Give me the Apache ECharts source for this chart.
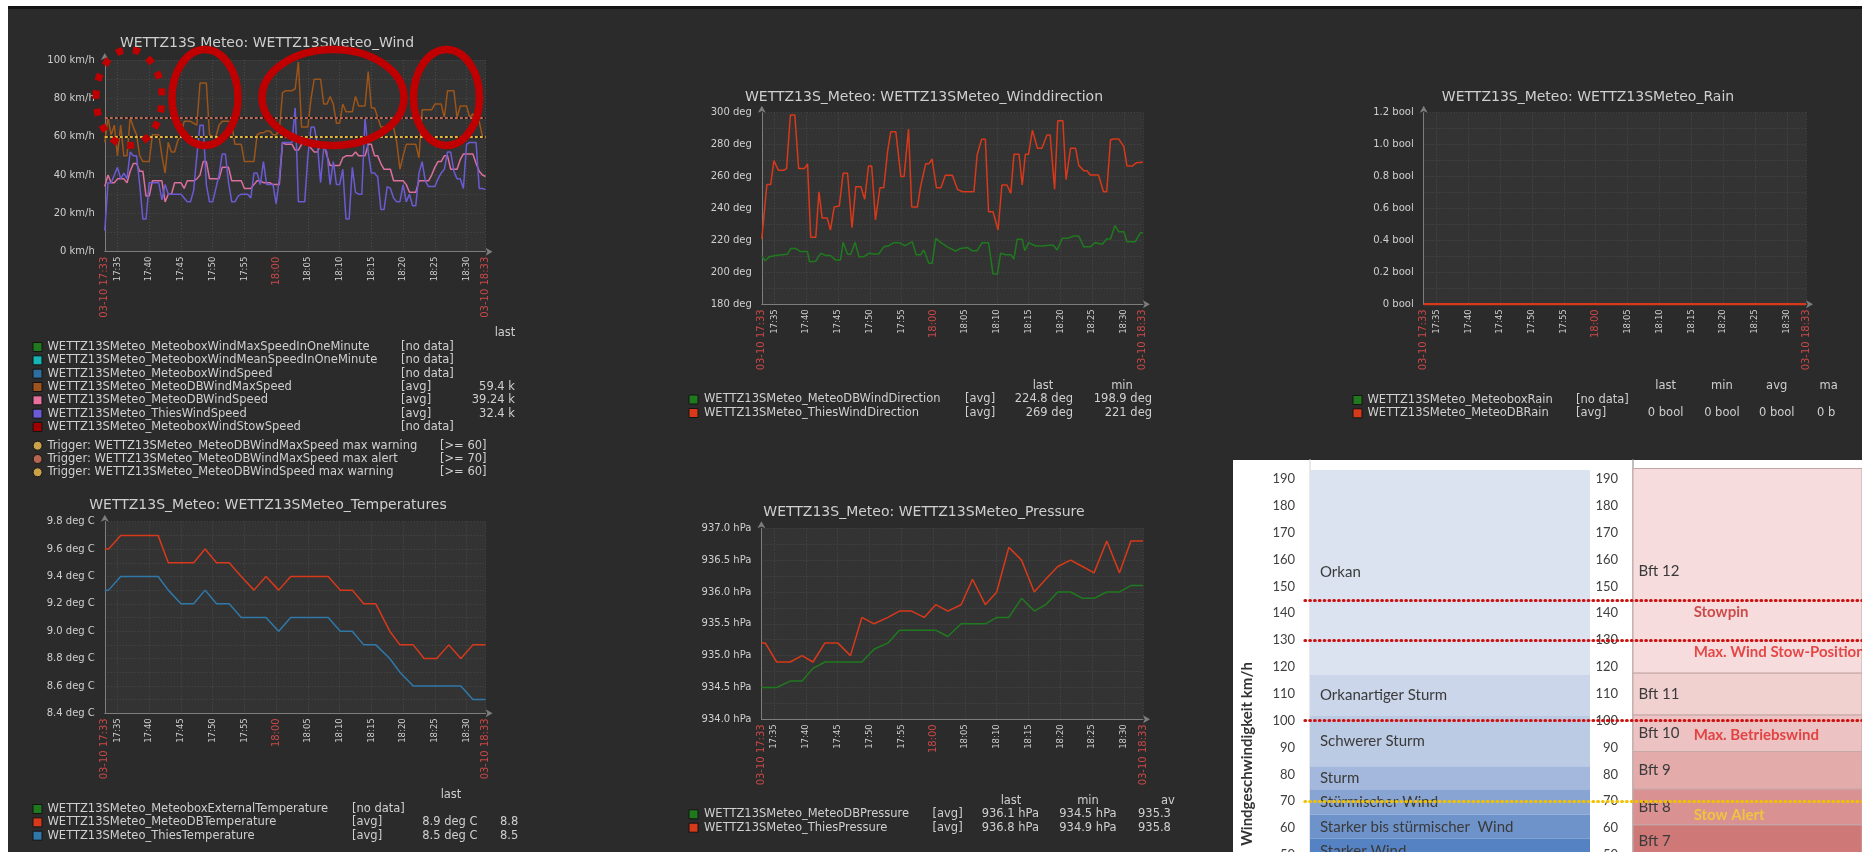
<!DOCTYPE html>
<html>
<head>
<meta charset="utf-8">
<title>WETTZ13S Meteo</title>
<script src="https://cdn.jsdelivr.net/npm/echarts@6.0.0/dist/echarts.min.js"></script>
<style>
html, body { margin: 0; padding: 0; background: #ffffff; }
#board { width: 1862px; height: 852px; }
</style>
</head>
<body>
<div id="board"></div>
<script>
// ---------- shared time axis: minutes after 03-10 17:33 ----------
const timeTicks = [0, 2, 7, 12, 17, 22, 27, 32, 37, 42, 47, 52, 57, 60];
const timeTickLabels = ['03-10 17:33', '17:35', '17:40', '17:45', '17:50', '17:55', '18:00',
  '18:05', '18:10', '18:15', '18:20', '18:25', '18:30', '03-10 18:33'];
const highlightedTickLabels = ['03-10 17:33', '18:00', '03-10 18:33'];

// ---------- wind speed (km/h), one sample every 30 s ----------
const windSampleMinutes = 0.5;
const windMaxSpeed = [
  57, 70, 61, 66, 50, 66, 50, 50, 70, 65,
  61, 50, 47, 47, 47, 61, 61, 61, 50, 41,
  57, 52, 52, 58, 61, 68, 68, 68, 67, 66,
  88, 88, 88, 61, 60, 60, 66, 68, 68, 68,
  67, 56, 56, 56, 47, 47, 47, 47, 61, 62,
  62, 63, 63, 61, 61, 63, 83, 84, 84, 84,
  85, 99, 65, 65, 65, 80, 90, 90, 90, 77,
  77, 81, 77, 67, 67, 77, 73, 73, 73, 81,
  76, 76, 76, 94, 75, 75, 70, 65, 65, 65,
  65, 65, 57, 43, 50, 56, 56, 56, 56, 49,
  74, 74, 74, 74, 77, 77, 77, 70, 84, 84,
  84, 70, 76, 76, 76, 70, 72, 68, 68, 60,
  59.4];
const windDbSpeed = [
  34, 40, 36, 36, 38, 38, 38, 36, 42, 46,
  46, 42, 42, 29, 29, 37, 37, 37, 37, 26,
  30, 30, 36, 36, 36, 33, 37, 37, 37, 38,
  40, 47, 47, 38, 38, 38, 38, 44, 44, 44,
  37, 37, 37, 37, 33, 33, 33, 35, 37, 37,
  36, 36, 36, 35, 35, 35, 57, 56, 56, 56,
  53, 53, 56, 56, 56, 54, 52, 52, 56, 56,
  50, 45, 45, 45, 45, 49, 50, 50, 50, 52,
  50, 50, 50, 56, 56, 50, 50, 46, 43, 43,
  43, 37, 37, 37, 37, 35, 31, 31, 31, 37,
  37, 37, 37, 40, 44, 47, 47, 50, 50, 43,
  43, 43, 48, 51, 51, 51, 51, 46, 42, 40,
  39.24];
const windThiesSpeed = [
  11, 36, 36, 40, 44, 38, 41, 38, 52, 50,
  50, 35, 17, 17, 36, 36, 36, 36, 27, 35,
  30, 30, 30, 30, 30, 28, 26, 26, 32, 50,
  66, 66, 35, 26, 26, 33, 40, 51, 51, 36,
  26, 26, 29, 30, 30, 30, 28, 41, 41, 35,
  47, 35, 35, 35, 25, 38, 57, 57, 57, 57,
  75, 26, 26, 26, 50, 65, 65, 56, 36, 55,
  52, 35, 47, 35, 35, 43, 17, 17, 44, 31,
  30, 30, 70, 52, 41, 41, 39, 22, 22, 34,
  33, 28, 26, 26, 35, 26, 30, 24, 24, 41,
  47, 37, 34, 34, 34, 38, 41, 43, 52, 52,
  42, 38, 38, 33, 56, 57, 57, 57, 33, 33,
  32.4];
const windItemNames = [
  'WETTZ13SMeteo_MeteoboxWindMaxSpeedInOneMinute',
  'WETTZ13SMeteo_MeteoboxWindMeanSpeedInOneMinute',
  'WETTZ13SMeteo_MeteoboxWindSpeed',
  'WETTZ13SMeteo_MeteoDBWindMaxSpeed',
  'WETTZ13SMeteo_MeteoDBWindSpeed',
  'WETTZ13SMeteo_ThiesWindSpeed',
  'WETTZ13SMeteo_MeteoboxWindStowSpeed'];
const windTriggerNames = [
  'Trigger: WETTZ13SMeteo_MeteoDBWindMaxSpeed max warning',
  'Trigger: WETTZ13SMeteo_MeteoDBWindMaxSpeed max alert',
  'Trigger: WETTZ13SMeteo_MeteoDBWindSpeed max warning'];
const windTriggerLevels = [60, 70, 60];

// ---------- wind direction (deg) ----------
const dirThiesMinutes = [0, 0.8, 1.4, 1.9, 2.6, 3.5, 3.9, 4.5, 5.2, 5.8, 6.7, 7.2, 7.7, 8.5, 9, 9.5, 10.3, 10.8,
  11.4, 12.2, 12.8, 13.5, 14.2, 14.8, 15.6, 16.2, 16.8, 17.3, 17.9, 18.6, 19.2, 19.8, 20.3, 21.1, 21.9, 22.4,
  23.1, 23.6, 24.5, 25, 25.8, 26.3, 26.8, 27.5, 28.2, 28.9, 30, 30.8, 31.6, 33.4, 33.9, 34.6, 35.2, 35.7, 36.4,
  37.2, 37.8, 38.6, 39.2, 39.7, 40.5, 41, 41.5, 42, 42.6, 43.4, 44.1, 44.9, 45.4, 46.1, 46.6, 47.4, 47.9, 48.6,
  49.4, 49.9, 50.7, 51.2, 51.7, 53, 53.8, 54.3, 54.9, 55.4, 56.2, 57, 57.5, 58.3, 59, 60];
const dirThiesDeg = [221, 255, 255, 270, 264, 264, 265, 298.5, 298.5, 265, 265, 268, 222, 222, 250.5, 234, 234, 226.5,
  241, 241.5, 262, 262, 228, 253.7, 253.7, 245.7, 266.6, 266.6, 232.8, 253, 253, 275.6, 288, 288, 260, 260,
  289.8, 241, 241, 253.7, 268, 268, 271, 253, 253, 260.8, 260.8, 252, 250.5, 250.5, 273.5, 283.3, 283.3, 238, 238,
  226.5, 254.7, 254.7, 249.5, 274, 274, 254.7, 274, 274, 289, 277.7, 277.7, 286, 286, 252, 295, 295, 258, 277.7,
  277.7, 267, 263.7, 263.7, 261, 261, 250.5, 250.5, 283, 283.5, 283.5, 278.7, 266.6, 266.6, 268.7, 269];
const dirDbMinutes = [0, 0.5, 1.2, 2.2, 3.2, 4, 4.6, 5.3, 6.1, 7.2, 7.5, 8.5, 9.3, 10.1, 10.8, 11.6, 12.4, 12.8,
  13.5, 14, 14.7, 15.3, 16.1, 16.9, 17.7, 18.4, 19.2, 20, 20.8, 21.6, 22.6, 23.7, 24.3, 25, 25.5, 26.3, 26.8,
  27.4, 28.2, 29.2, 30.5, 31.3, 32.4, 33.1, 33.9, 34.7, 35.7, 36.4, 37.1, 37.6, 38.4, 39.2, 39.7, 40.2, 41,
  41.4, 42, 43.1, 44.1, 45.2, 45.9, 46.5, 47.3, 48.1, 49.1, 49.9, 50.7, 51.7, 52.5, 53.6, 54.3, 54.9, 55.6,
  56.2, 57, 57.5, 58.8, 59.6, 60];
const dirDbDeg = [210.5, 207.3, 209.8, 210.5, 211, 211.3, 215, 215, 213, 213, 206.7, 207, 212, 210.5, 210.5, 207.8, 207.8, 218.8,
  211.3, 211.3, 218.8, 209.8, 209.8, 212, 211.5, 211.5, 216, 216.7, 218.6, 218.6, 216.7, 219.2, 211, 211, 214, 205.7, 205.7,
  221.3, 218.6, 216, 213.4, 215, 215.5, 213.6, 213.6, 218.6, 218.6, 198.9, 198.9, 212, 211, 211, 208.4, 220.7, 220.7,
  213.6, 218.6, 216.5, 216.5, 217, 217, 214, 221.3, 221.3, 222.8, 222.8, 216, 216, 218.6, 217.6, 220.9, 220.9, 229.3,
  225.5, 225.5, 219.2, 219.2, 224.8, 224.8];
const dirItemNames = ['WETTZ13SMeteo_MeteoDBWindDirection', 'WETTZ13SMeteo_ThiesWindDirection'];

// ---------- rain (bool) ----------
const rainMinutes = [0, 60];
const rainDb = [0, 0];
const rainItemNames = ['WETTZ13SMeteo_MeteoboxRain', 'WETTZ13SMeteo_MeteoDBRain'];

// ---------- temperatures (deg C) ----------
const tempMinutes = [0, 0.6, 2.5, 4.5, 6.5, 8.4, 10, 12, 14, 15.8, 17.6, 19.6, 21.5, 23.5, 25.4, 27.4, 29.3,
  31.3, 33.2, 35.2, 37.1, 39, 40.8, 42.7, 44.9, 46.5, 48.6, 50.3, 52.3, 54.2, 56.1, 58, 60];
const tempDb = [9.6, 9.6, 9.7, 9.7, 9.7, 9.7, 9.5, 9.5, 9.5, 9.6, 9.5, 9.5, 9.4, 9.3, 9.4, 9.3, 9.4,
  9.4, 9.4, 9.4, 9.3, 9.3, 9.2, 9.2, 9.0, 8.9, 8.9, 8.8, 8.8, 8.9, 8.8, 8.9, 8.9];
const tempThies = [9.3, 9.3, 9.4, 9.4, 9.4, 9.4, 9.3, 9.2, 9.2, 9.3, 9.2, 9.2, 9.1, 9.1, 9.1, 9.0, 9.1,
  9.1, 9.1, 9.1, 9.0, 9.0, 8.9, 8.9, 8.8, 8.7, 8.6, 8.6, 8.6, 8.6, 8.6, 8.5, 8.5];
const tempItemNames = ['WETTZ13SMeteo_MeteoboxExternalTemperature', 'WETTZ13SMeteo_MeteoDBTemperature',
  'WETTZ13SMeteo_ThiesTemperature'];

// ---------- pressure (hPa) ----------
const pressMinutes = [0, 0.6, 2.4, 4.5, 6.4, 8.1, 10, 12, 14, 15.8, 17.7, 19.9, 21.7, 23.6, 25.6, 27.4, 29.3,
  31.4, 33.2, 35.2, 37, 38.9, 40.9, 42.9, 44.7, 46.6, 48.6, 50.5, 52.3, 54.3, 56.3, 58.1, 60];
const pressDb = [934.5, 934.5, 934.5, 934.6, 934.6, 934.8, 934.9, 934.9, 934.9, 934.9, 935.1, 935.2, 935.4, 935.4,
  935.4, 935.4, 935.3, 935.5, 935.5, 935.5, 935.6, 935.6, 935.9, 935.7, 935.8, 936.0, 936.0, 935.9, 935.9, 936.0,
  936.0, 936.1, 936.1];
const pressThies = [935.2, 935.2, 934.9, 934.9, 935.0, 934.9, 935.2, 935.2, 935.0, 935.6, 935.5, 935.6, 935.7, 935.7,
  935.6, 935.8, 935.7, 935.8, 936.2, 935.8, 936.0, 936.7, 936.5, 936.0, 936.2, 936.4, 936.5, 936.4, 936.3, 936.8,
  936.3, 936.8, 936.8];
const pressAvgText = ['935.3', '935.8'];
const pressItemNames = ['WETTZ13SMeteo_MeteoDBPressure', 'WETTZ13SMeteo_ThiesPressure'];

// ---------- wind scale reference table (km/h) ----------
const scaleTicks = [50, 60, 70, 80, 90, 100, 110, 120, 130, 140, 150, 160, 170, 180, 190];
const windClassNames = ['Orkan', 'Orkanartiger Sturm', 'Schwerer Sturm', 'Sturm', 'Stürmischer Wind',
  'Starker bis stürmischer  Wind', 'Starker Wind'];
const windClassFrom = [117, 102, 83, 74.5, 65, 56, 47];
const windClassTo = [193.3, 117, 102, 83, 74.5, 65, 56];
const beaufortNames = ['Bft 12', 'Bft 11', 'Bft 10', 'Bft 9', 'Bft 8', 'Bft 7'];
const beaufortFrom = [117.7, 102.1, 88.5, 74.5, 61.2, 49];
const beaufortTo = [193.9, 117.7, 102.1, 88.5, 74.5, 61.2];
const limitNames = ['Stowpin', 'Max. Wind Stow-Position', 'Max. Betriebswind', 'Stow Alert'];
const limitLabelLevels = [140.4, 125.5, 94.5, 65];
const limitLineLevels = [145, 130, 100, 70];

// ---------- styling ----------
const FONT = 'DejaVu Sans';
const PAGE_BG = '#2b2b2b';
const PLOT_BG = '#333333';
const GRID_LINE = '#4a4a4a';
const AXIS_LINE = '#7d7d7d';
const TEXT = '#cfcfcf';
const TICK_RED = '#c84848';
const LEG_FONT = '11.5px "DejaVu Sans"';
const windLegendColors = ['#1f7a1f', '#16b5b5', '#2d6f9e', '#a0521d', '#e8709f', '#6b5bd6', '#a00000'];
const windLineColors = { max: '#9c5418', db: '#db6f9e', thies: '#6a5bd4' };
const triggerColors = ['#c9a24a', '#b8654f', '#c9a24a'];
const triggerLineColors = { 60: '#e0b43c', 70: '#b86a58' };
const GREEN = '#1f7a1f', RED = '#d8391a', BLUE = '#2f78a8';
const classColors = ['#dbe3f1', '#cbd6ea', '#bccbe4', '#a3b8dc', '#88a4d3', '#6e92ca', '#5582c2'];
const bftColors = ['#f6dcdc', '#f1d0d0', '#ecc2c2', '#e4abab', '#da9191', '#cf7878'];
const limitColors = ['#c42626', '#e02222', '#e02222', '#f2d22a'];
const limitLineColors = ['#cc1111', '#cc1111', '#cc1111', '#f2c200'];

// ---------- helpers ----------
const pairs = (xs, ys) => xs.map((x, i) => [x, ys[i]]);
const windMinutes = windMaxSpeed.map((_, i) => i * windSampleMinutes);
const last = a => a[a.length - 1];
const minOf = a => Math.min.apply(null, a);

function tickLabel(v) {
  const i = timeTicks.findIndex(t => Math.abs(t - v) < 1e-6);
  if (i < 0) return '';
  const s = timeTickLabels[i];
  return highlightedTickLabels.indexOf(s) >= 0 ? '{hi|' + s + '}' : '{lo|' + s + '}';
}

function timeAxis(gridIndex) {
  return {
    type: 'value', gridIndex, min: 0, max: 60,
    axisLine: { show: true, onZero: false, lineStyle: { color: AXIS_LINE },
      symbol: ['none', 'arrow'], symbolSize: [6, 7], symbolOffset: [0, 7] },
    axisTick: { show: false, customValues: timeTicks },
    axisLabel: {
      customValues: timeTicks, rotate: 90, margin: 5, formatter: tickLabel,
      rich: {
        hi: { color: TICK_RED, fontSize: 10, fontFamily: FONT },
        lo: { color: TEXT, fontSize: 8.5, fontFamily: FONT }
      }
    },
    splitLine: { show: true, lineStyle: { color: GRID_LINE, type: [1, 2] } }
  };
}

function valueAxis(gridIndex, min, max, interval, fmt) {
  return {
    type: 'value', gridIndex, min, max, interval,
    axisLine: { show: true, lineStyle: { color: AXIS_LINE },
      symbol: ['none', 'arrow'], symbolSize: [6, 7], symbolOffset: [0, 7] },
    axisTick: { show: false },
    axisLabel: { color: TEXT, fontFamily: FONT, fontSize: 10, margin: 10, formatter: fmt },
    splitLine: { show: true, lineStyle: { color: GRID_LINE, type: [1, 2] } },
    minorTick: { show: false, splitNumber: 2 },
    minorSplitLine: { show: true, lineStyle: { color: GRID_LINE, type: [1, 2] } }
  };
}

function lineSeries(axisIndex, data, color, width, extra) {
  return Object.assign({
    type: 'line', xAxisIndex: axisIndex, yAxisIndex: axisIndex, data,
    showSymbol: false, symbol: 'none', silent: true, animation: false,
    lineStyle: { color, width: width || 1.5 }
  }, extra || {});
}

function txt(x, y, s, o) {
  o = o || {};
  return {
    type: 'text', x, y, z: o.z || 10, rotation: o.rot || 0, silent: true,
    style: {
      text: s, fill: o.color || TEXT, font: o.font || LEG_FONT,
      textAlign: o.align || 'left', textVerticalAlign: 'middle',
      align: o.align || 'left', verticalAlign: 'middle'
    }
  };
}
function swatch(x, y, color) {
  return { type: 'rect', z: 10, silent: true, shape: { x, y: y - 4.5, width: 9, height: 9 },
    style: { fill: color, stroke: '#141414', lineWidth: 1 } };
}
function dot(x, y, color) {
  return { type: 'circle', z: 10, silent: true, shape: { cx: x, cy: y, r: 4.5 },
    style: { fill: color, stroke: '#141414', lineWidth: 1 } };
}

// ---------- page chrome, titles and legends ----------
const TITLE_FONT = '14px "DejaVu Sans"';
const g = [];
g.push({ type: 'rect', z: -100, silent: true, shape: { x: 0, y: 0, width: 1862, height: 852 }, style: { fill: '#ffffff' } });
g.push({ type: 'rect', z: -99, silent: true, shape: { x: 8, y: 6, width: 1854, height: 846 }, style: { fill: PAGE_BG } });
g.push({ type: 'rect', z: -98, silent: true, shape: { x: 8, y: 6, width: 1854, height: 3 }, style: { fill: '#141414' } });
g.push({ type: 'rect', z: -97, silent: true, shape: { x: 1233, y: 460, width: 629, height: 392 }, style: { fill: '#ffffff' } });

g.push(txt(267, 43, 'WETTZ13S Meteo: WETTZ13SMeteo_Wind', { align: 'center', font: TITLE_FONT }));
g.push(txt(924, 97, 'WETTZ13S_Meteo: WETTZ13SMeteo_Winddirection', { align: 'center', font: TITLE_FONT }));
g.push(txt(1588, 97, 'WETTZ13S_Meteo: WETTZ13SMeteo_Rain', { align: 'center', font: TITLE_FONT }));
g.push(txt(268, 505, 'WETTZ13S_Meteo: WETTZ13SMeteo_Temperatures', { align: 'center', font: TITLE_FONT }));
g.push(txt(924, 512, 'WETTZ13S_Meteo: WETTZ13SMeteo_Pressure', { align: 'center', font: TITLE_FONT }));

// wind legend
const windLast = ['', '', '', last(windMaxSpeed) + ' k', last(windDbSpeed) + ' k', last(windThiesSpeed) + ' k', ''];
g.push(txt(505, 333, 'last', { align: 'center' }));
windItemNames.forEach((n, i) => {
  const y = 347 + i * 13.33;
  g.push(swatch(33, y, windLegendColors[i]));
  g.push(txt(47.5, y, n));
  g.push(txt(401, y, windLast[i] ? '[avg]' : '[no data]'));
  if (windLast[i]) g.push(txt(515, y, windLast[i], { align: 'right' }));
});
windTriggerNames.forEach((n, i) => {
  const y = 445.7 + i * 13.3;
  g.push(dot(37.6, y, triggerColors[i]));
  g.push(txt(47.5, y, n));
  g.push(txt(440, y, '[>= ' + windTriggerLevels[i] + ']'));
});

// wind direction legend
const dirSeries = [dirDbDeg, dirThiesDeg];
g.push(txt(1043, 386, 'last', { align: 'center' }));
g.push(txt(1122, 386, 'min', { align: 'center' }));
dirItemNames.forEach((n, i) => {
  const y = 399.5 + i * 13.5;
  g.push(swatch(689, y, [GREEN, RED][i]));
  g.push(txt(704, y, n));
  g.push(txt(965, y, '[avg]'));
  g.push(txt(1073, y, last(dirSeries[i]) + ' deg', { align: 'right' }));
  g.push(txt(1152, y, minOf(dirSeries[i]) + ' deg', { align: 'right' }));
});

// rain legend
const rainCols = [1665.6, 1721.9, 1776.7];
g.push(txt(rainCols[0], 386, 'last', { align: 'center' }));
g.push(txt(rainCols[1], 386, 'min', { align: 'center' }));
g.push(txt(rainCols[2], 386, 'avg', { align: 'center' }));
g.push(txt(1819.5, 386, 'ma'));
rainItemNames.forEach((n, i) => {
  const y = 400 + i * 13.3;
  g.push(swatch(1353, y, [GREEN, RED][i]));
  g.push(txt(1367.5, y, n));
  g.push(txt(1576, y, i === 0 ? '[no data]' : '[avg]'));
  if (i === 1) {
    rainCols.forEach(x => g.push(txt(x, y, last(rainDb) + ' bool', { align: 'center' })));
    g.push(txt(1817, y, last(rainDb) + ' b'));
  }
});

// temperature legend
const tempSeries = [null, tempDb, tempThies];
g.push(txt(451, 795, 'last', { align: 'center' }));
tempItemNames.forEach((n, i) => {
  const y = 809 + i * 13.35;
  g.push(swatch(33, y, [GREEN, RED, BLUE][i]));
  g.push(txt(47.5, y, n));
  g.push(txt(352, y, tempSeries[i] ? '[avg]' : '[no data]'));
  if (tempSeries[i]) {
    g.push(txt(477.6, y, last(tempSeries[i]).toFixed(1) + ' deg C', { align: 'right' }));
    g.push(txt(500, y, minOf(tempSeries[i]).toFixed(1)));
  }
});

// pressure legend
const pressSeries = [pressDb, pressThies];
g.push(txt(1011, 801, 'last', { align: 'center' }));
g.push(txt(1088, 801, 'min', { align: 'center' }));
g.push(txt(1161, 801, 'av'));
pressItemNames.forEach((n, i) => {
  const y = 814.3 + i * 13.4;
  g.push(swatch(689, y, [GREEN, RED][i]));
  g.push(txt(704, y, n));
  g.push(txt(932.5, y, '[avg]'));
  g.push(txt(1039, y, last(pressSeries[i]).toFixed(1) + ' hPa', { align: 'right' }));
  g.push(txt(1116.6, y, minOf(pressSeries[i]).toFixed(1) + ' hPa', { align: 'right' }));
  g.push(txt(1138, y, pressAvgText[i]));
});

// wind scale table: axis title
g.push(txt(1247, 754, 'Windgeschwindigkeit km/h', { align: 'center', rot: Math.PI / 2, color: '#333333', font: 'bold 15px Lato' }));

// hand-drawn highlight rings over the wind graph
const RING = '#c00000';
g.push({ type: 'ellipse', z: 60, silent: true, shape: { cx: 129, cy: 97.5, rx: 33, ry: 48 },
  style: { fill: 'none', stroke: RING, lineWidth: 7, lineDash: [7, 10], lineCap: 'butt' } });
g.push({ type: 'ellipse', z: 60, silent: true, shape: { cx: 205, cy: 97.5, rx: 33, ry: 48 },
  style: { fill: 'none', stroke: RING, lineWidth: 7.5 } });
g.push({ type: 'ellipse', z: 60, silent: true, shape: { cx: 333, cy: 97.5, rx: 71, ry: 48 },
  style: { fill: 'none', stroke: RING, lineWidth: 7.5 } });
g.push({ type: 'ellipse', z: 60, silent: true, shape: { cx: 446.5, cy: 97.5, rx: 33, ry: 48 },
  style: { fill: 'none', stroke: RING, lineWidth: 7.5 } });

// ---------- grids ----------
const plotGrid = (left, top, width, height) => ({ left, top, width, height, show: true,
  backgroundColor: PLOT_BG, borderWidth: 0, containLabel: false, outerBoundsMode: 'none' });
const plainGrid = (left, top, width, height) => ({ left, top, width, height, show: false,
  containLabel: false, outerBoundsMode: 'none' });

const grids = [
  plotGrid(104.8, 60, 380.8, 191.7),     // wind
  plotGrid(761.8, 112.7, 381.1, 191.6),  // wind direction
  plotGrid(1423.7, 112.7, 382.3, 191.6), // rain
  plotGrid(104.8, 521.7, 380.8, 191.6),  // temperatures
  plotGrid(761.4, 528.3, 381.6, 191),    // pressure
  plainGrid(1310, 460, 280, 408.4),      // wind classes
  plainGrid(1633, 460, 229, 408.4),      // beaufort
  plainGrid(1305, 460, 557, 408.4)       // limit lines
];

const SCALE_MIN = 45, SCALE_MAX = 197.07;
const scaleY = (gridIndex, show, lineColor) => ({
  type: 'value', gridIndex, min: SCALE_MIN, max: SCALE_MAX, show,
  axisLine: { show: true, lineStyle: { color: lineColor, width: 1.5 } },
  axisTick: { show: false }, splitLine: { show: false },
  axisLabel: { customValues: scaleTicks, color: '#404040', fontFamily: 'Lato', fontSize: 13, margin: 15 }
});
const unitX = gridIndex => ({ type: 'value', gridIndex, min: 0, max: 1, show: false });

const xAxes = [timeAxis(0), timeAxis(1), timeAxis(2), timeAxis(3), timeAxis(4), unitX(5), unitX(6), unitX(7)];
const yAxes = [
  valueAxis(0, 0, 100, 20, v => v + ' km/h'),
  valueAxis(1, 180, 300, 20, v => v + ' deg'),
  valueAxis(2, 0, 1.2, 0.2, v => (v === 0 ? '0' : v.toFixed(1)) + ' bool'),
  valueAxis(3, 8.4, 9.8, 0.2, v => v.toFixed(1) + ' deg C'),
  valueAxis(4, 934, 937, 0.5, v => v.toFixed(1) + ' hPa'),
  scaleY(5, true, '#e2e2e2'),
  scaleY(6, true, '#a9a9a9'),
  scaleY(7, false, '#ffffff')
];

// trigger thresholds drawn as black-backed dashed lines
const thresholdLines = [];
windTriggerLevels.forEach(v => {
  thresholdLines.push({ yAxis: v, lineStyle: { color: '#111111', type: 'solid', width: 2 } });
  thresholdLines.push({ yAxis: v, lineStyle: { color: triggerLineColors[v], type: [3, 2], width: 2 } });
});

const series = [
  lineSeries(0, pairs(windMinutes, windMaxSpeed), windLineColors.max),
  lineSeries(0, pairs(windMinutes, windDbSpeed), windLineColors.db, 1.5, {
    markLine: { silent: true, symbol: ['none', 'none'], label: { show: false }, animation: false, data: thresholdLines }
  }),
  lineSeries(0, pairs(windMinutes, windThiesSpeed), windLineColors.thies),

  lineSeries(1, pairs(dirDbMinutes, dirDbDeg), GREEN),
  lineSeries(1, pairs(dirThiesMinutes, dirThiesDeg), RED),

  lineSeries(2, pairs(rainMinutes, rainDb), RED, 2.5),

  lineSeries(3, pairs(tempMinutes, tempDb), RED),
  lineSeries(3, pairs(tempMinutes, tempThies), BLUE),

  lineSeries(4, pairs(pressMinutes, pressDb), GREEN),
  lineSeries(4, pairs(pressMinutes, pressThies), RED),

  // wind classes (blue column)
  {
    type: 'line', xAxisIndex: 5, yAxisIndex: 5, data: [[0, SCALE_MIN]], symbol: 'none', silent: true,
    lineStyle: { opacity: 0 }, animation: false,
    markArea: {
      silent: true, animation: false,
      label: { show: true, position: 'insideLeft', distance: 10, color: '#3a3a3a', fontFamily: 'Lato', fontSize: 15 },
      data: windClassNames.map((n, i) => [
        { name: n, yAxis: windClassFrom[i], itemStyle: { color: classColors[i] } },
        { yAxis: windClassTo[i] }
      ])
    }
  },
  // beaufort bands (red column)
  {
    type: 'line', xAxisIndex: 6, yAxisIndex: 6, data: [[0, SCALE_MIN]], symbol: 'none', silent: true,
    lineStyle: { opacity: 0 }, animation: false,
    markArea: {
      silent: true, animation: false,
      label: { show: true, position: 'insideLeft', distance: 6, color: '#3a3a3a', fontFamily: 'Lato', fontSize: 15 },
      data: beaufortNames.map((n, i) => [
        { name: n, yAxis: beaufortFrom[i], itemStyle: { color: bftColors[i], borderColor: '#c4a8a8', borderWidth: 1 } },
        { yAxis: beaufortTo[i] }
      ])
    }
  },
  // operating limits text
  {
    type: 'scatter', xAxisIndex: 6, yAxisIndex: 6, symbolSize: 0, silent: true, animation: false, z: 4,
    data: limitNames.map((n, i) => ({
      name: n, value: [0.265, limitLabelLevels[i]],
      label: { color: limitColors[i] }
    })),
    label: { show: true, position: 'right', distance: 0, formatter: p => p.name,
      fontFamily: 'Lato', fontWeight: 'bold', fontSize: 15 }
  },
  // operating limit lines (round dots)
  {
    type: 'line', xAxisIndex: 7, yAxisIndex: 7, data: [[0, SCALE_MIN]], symbol: 'none', silent: true,
    lineStyle: { opacity: 0 }, animation: false, z: 6,
    markLine: {
      silent: true, animation: false, symbol: ['none', 'none'], label: { show: false },
      data: limitLineLevels.map((v, i) => ({
        yAxis: v, lineStyle: { color: limitLineColors[i], type: [0.6, 4.2], cap: 'round', width: 3.2 }
      }))
    }
  }
];

const chart = echarts.init(document.getElementById('board'), null, { renderer: 'canvas', width: 1862, height: 852 });
chart.setOption({
  animation: false,
  backgroundColor: 'transparent',
  textStyle: { fontFamily: FONT },
  grid: grids,
  xAxis: xAxes,
  yAxis: yAxes,
  series,
  graphic: { elements: g }
});
</script>
</body>
</html>
